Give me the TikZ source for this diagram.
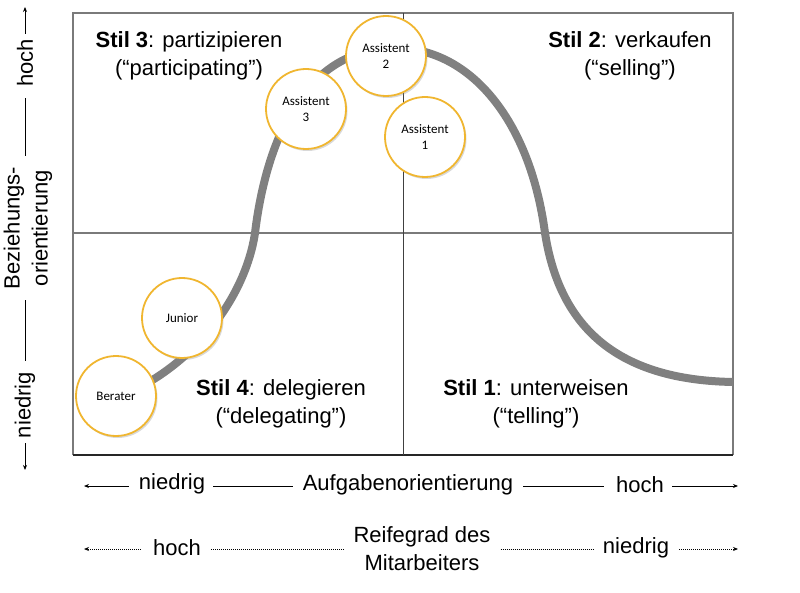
\documentclass[tikz,border=0pt]{standalone}
\usepackage{fontspec}
\setmainfont{Liberation Sans}
\newfontfamily\circfont{Carlito}
\usetikzlibrary{arrows.meta}
\usetikzlibrary{positioning}
\usetikzlibrary{shadows}
\definecolor{framegray}{HTML}{7A7A7A}
\definecolor{curvegray}{HTML}{808080}
\definecolor{ringgold}{HTML}{F0B630}
\newcommand{\lbl}{\fontsize{22}{28}\selectfont}
\tikzset{person/.style = {circle, draw=ringgold, line width=1.8, fill=white, minimum size=80, inner sep=0,
    align=center, font=\circfont\fontsize{13}{16}\selectfont,
    drop shadow={opacity=0.3, shadow xshift=1.5pt, shadow yshift=-2pt}}}
\tikzset{axtext/.style = {font=\lbl, inner sep=2, align=center}}
\tikzset{axline/.style = {line width=0.9}}
\tikzset{axdots/.style = {line width=0.9, dash pattern=on 1pt off 1pt}}

\begin{document}
\begin{tikzpicture}[x=1pt, y=-1pt, >={Stealth[length=5pt, width=4pt]}]
      \useasboundingbox (0, 0) rectangle (800, 593);

      % frame and quadrants
      \draw [framegray, line width=1.3] (73, 455) -- (73, 13) -- (733, 13) -- (733, 455);
      \draw [black!85, line width=1.3] (73, 455) -- (733, 455);
      \draw [framegray, line width=1.6] (73, 233) -- (733, 233);
      \draw [black!75, line width=1] (403, 13) -- (403, 455);

      % curve
      \draw [curvegray, line width=8] (116, 398) .. controls (190, 370) and (245, 300) .. (255, 233)
        .. controls (265, 150) and (300, 48) .. (395, 48)
        .. controls (470, 48) and (530, 120) .. (545, 233)
        .. controls (560, 330) and (620, 380) .. (733, 382);

      \node [person] (berater) at (116, 396) {Berater};
      \node [person] (junior) at (182, 318) {Junior};
      \node [person] (ass3) at (306, 109) {Assistent\\3};
      \node [person] (ass2) at (386, 56) {Assistent\\2};
      \node [person] (ass1) at (425, 137) {Assistent\\1};

      \node [axtext] (stil3) at (189, 56) {\textbf{Stil 3}: partizipieren\\(“participating”)};
      \node [axtext] (stil2) at (630, 56) {\textbf{Stil 2}: verkaufen\\(“selling”)};
      \node [axtext] (stil4) at (281, 404) {\textbf{Stil 4}: delegieren\\(“delegating”)};
      \node [axtext] (stil1) at (536, 404) {\textbf{Stil 1}: unterweisen\\(“telling”)};

      % vertical axis
      \coordinate (ytop) at (25, 7);
      \coordinate (ybot) at (25, 470);
      \node [axtext, rotate=90] (yhigh) at (25, 63) {hoch};
      \node [axtext, rotate=90] (ymid) at (28, 228) {Beziehungs-\\orientierung};
      \node [axtext, rotate=90] (ylow) at (25, 405) {niedrig};
      \draw [axline, ->] ([yshift=3]yhigh.east -| ytop) -- (ytop);
      \draw [axline] ([yshift=-9]yhigh.west -| ytop) -- ([yshift=9]ymid.east -| ytop);
      \draw [axline] ([yshift=-9]ymid.west -| ytop) -- ([yshift=9]ylow.east -| ytop);
      \draw [axline, ->] ([yshift=-3]ylow.west -| ytop) -- (ybot);

      % task axis
      \coordinate (xleft) at (84, 486);
      \coordinate (xright) at (738, 486);
      \node [axtext] (xlow) at (172, 484) {niedrig};
      \node [axtext] (xmid) at (408, 485) {Aufgabenorientierung};
      \node [axtext] (xhigh) at (640, 485) {hoch};
      \draw [axline, ->] ([xshift=-8]xlow.west |- xleft) -- (xleft);
      \draw [axline] ([xshift=6]xlow.east |- xleft) -- ([xshift=-8]xmid.west |- xleft);
      \draw [axline] ([xshift=8]xmid.east |- xleft) -- ([xshift=-10]xhigh.west |- xleft);
      \draw [axline, ->] ([xshift=6]xhigh.east |- xright) -- (xright);

      % maturity axis
      \coordinate (mleft) at (84, 549);
      \coordinate (mright) at (738, 549);
      \node [axtext] (mhigh) at (177, 548) {hoch};
      \node [axtext] (mmid) at (422, 549) {Reifegrad des\\Mitarbeiters};
      \node [axtext] (mlow) at (636, 548) {niedrig};
      \draw [axdots, ->] ([xshift=-10]mhigh.west |- mleft) -- (mleft);
      \draw [axdots] ([xshift=8]mhigh.east |- mleft) -- ([xshift=-8]mmid.west |- mleft);
      \draw [axdots] ([xshift=8]mmid.east |- mleft) -- ([xshift=-8]mlow.west |- mleft);
      \draw [axdots, ->] ([xshift=8]mlow.east |- mright) -- (mright);
\end{tikzpicture}
\end{document}
